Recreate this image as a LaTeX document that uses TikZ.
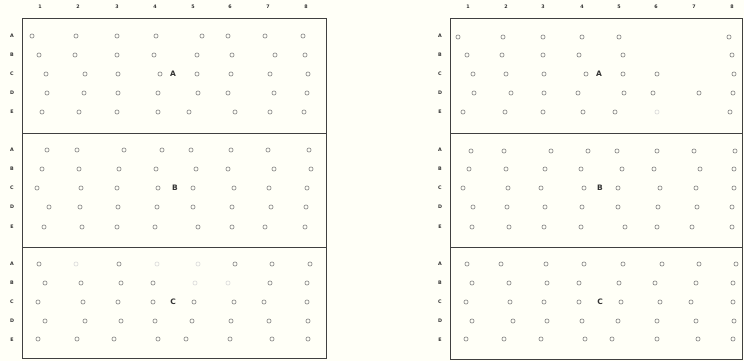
\documentclass[tikz,border=0pt]{standalone}
\usepackage{fontspec}
\setsansfont{DejaVu Sans}
\begin{document}
\begin{tikzpicture}[x=1pt,y=-1pt,
  frame/.style={draw=black!75,line width=0.8pt},
  dot/.style={draw=black!50,line width=0.6pt},
  faintdot/.style={draw=black!15,line width=0.6pt},
  lbl/.style={font=\sffamily\bfseries\fontsize{4.8}{5}\selectfont,text=black!80,inner sep=0pt},
  boxlbl/.style={font=\sffamily\bfseries\fontsize{7.5}{8}\selectfont,text=black!80,inner sep=0pt}]
\fill[yellow!3!white] (0,0) rectangle (744,361);
\useasboundingbox (0,0) rectangle (744,361);
% frames
\draw[frame] (22,18) rectangle (326,358);
\draw[frame] (22,133) -- (326,133);
\draw[frame] (22,247) -- (326,247);
\draw[frame] (450,18) rectangle (742,359);
\draw[frame] (450,133) -- (742,133);
\draw[frame] (450,247) -- (742,247);
% column labels
\foreach \x [count=\i] in {40,78,117,155,193,230,268,306}
  \node[lbl] (lc\i) at (\x,7) {\i};
\foreach \x [count=\i] in {468,506,543,582,619,656,694,732}
  \node[lbl] (rc\i) at (\x,7) {\i};
% row labels
\foreach \y/\r [count=\i] in {36/A,55/B,74/C,93/D,112/E,150/A,169/B,188/C,207/D,227/E,264/A,283/B,302/C,321/D,340/E}{
  \node[lbl] (lr\i) at (12,\y) {\r};
  \node[lbl] (rr\i) at (440,\y) {\r};
}
% box labels
\node[boxlbl] (lA) at (173,74) {A};
\node[boxlbl] (lB) at (175,188) {B};
\node[boxlbl] (lC) at (173,302) {C};
\node[boxlbl] (rA) at (599,74) {A};
\node[boxlbl] (rB) at (600,188) {B};
\node[boxlbl] (rC) at (600,302) {C};
% dots: left panel
\foreach \y/\xs in {
  36/{32,76,117,156,202,228,265,303},
  55/{39,75,117,154,197,232,275,305},
  74/{46,85,118,160,197,231,270,308},
  93/{47,84,118,158,198,228,274,307},
  112/{42,79,117,158,189,235,270,304},
  150/{47,77,124,162,191,231,268,309},
  169/{42,79,119,156,196,228,274,311},
  188/{37,81,117,158,193,234,269,307},
  207/{49,80,118,157,193,232,271,306},
  227/{44,82,117,155,198,232,265,305},
  264/{39,119,235,272,310},
  283/{45,81,121,153,270,307},
  302/{38,83,118,153,194,234,264,307},
  321/{45,85,121,155,192,231,269,308},
  339/{38,77,114,158,186,230,272,308}}
  \foreach \x in \xs \draw[dot] (\x,\y) circle[radius=2.1pt];
\foreach \x/\y in {76/264,157/264,198/264,195/283,228/283}
  \draw[faintdot] (\x,\y) circle[radius=2.1pt];
% dots: right panel
\foreach \y/\xs in {
  37/{458,503,543,582,619,729},
  55/{467,502,543,579,623,732},
  74/{473,506,544,586,623,657,734},
  93/{474,511,544,578,624,653,699,733},
  112/{463,505,543,583,615,730},
  151/{471,504,551,588,617,657,694,735},
  169/{469,506,545,581,622,654,700,734},
  188/{463,508,541,584,618,660,696,734},
  207/{473,507,545,582,618,658,697,732},
  227/{472,509,544,581,625,657,692,732},
  264/{467,501,546,584,623,662,699,736},
  283/{472,509,547,579,619,655,696,733},
  302/{466,510,544,579,621,660,691,733},
  321/{472,513,547,582,618,657,696,734},
  339/{466,504,541,585,612,657,698,733}}
  \foreach \x in \xs \draw[dot] (\x,\y) circle[radius=2.1pt];
\foreach \x/\y in {657/112}
  \draw[faintdot] (\x,\y) circle[radius=2.1pt];
\end{tikzpicture}
\end{document}
